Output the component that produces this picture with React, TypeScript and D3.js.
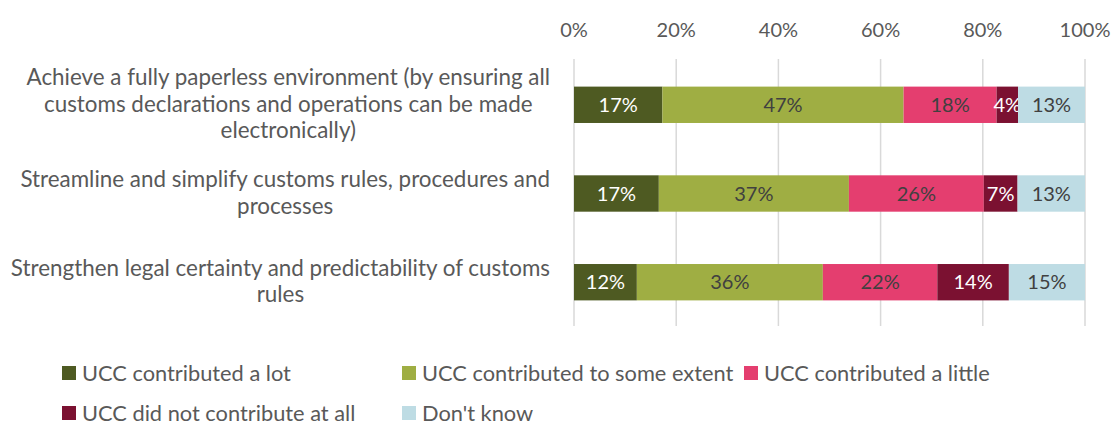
import { useEffect, useRef } from 'react'
import * as d3 from 'd3'

const categories = [
  'Achieve a fully paperless environment (by ensuring all|customs declarations and operations can be made|electronically)',
  'Streamline and simplify customs rules, procedures and|processes',
  'Strengthen legal certainty and predictability of customs|rules',
]
const seriesNames = [
  'UCC contributed a lot',
  'UCC contributed to some extent',
  'UCC contributed a little',
  'UCC did not contribute at all',
  "Don't know",
]
const aLot = [17.3, 16.6, 12.3]
const someExtent = [47.2, 37.2, 36.4]
const aLittle = [18.2, 26.4, 22.4]
const notAtAll = [4.2, 6.6, 14.0]
const dontKnow = [13.1, 13.2, 14.9]
const ticks = [0, 20, 40, 60, 80, 100]

const colors = ['#4e5a22', '#9fae43', '#e43e6f', '#7b1131', '#bedce4']
const labelColors = ['#ffffff', '#404040', '#404040', '#ffffff', '#404040']
const font = 'Lato, "Open Sans", sans-serif'

const App = () => {
  const ref = useRef<SVGSVGElement>(null)

  useEffect(() => {
    const svg = d3.select(ref.current)
    svg.selectAll('*').remove()

    const rows = categories.map((c, i) => ({
      cat: c,
      [seriesNames[0]]: aLot[i],
      [seriesNames[1]]: someExtent[i],
      [seriesNames[2]]: aLittle[i],
      [seriesNames[3]]: notAtAll[i],
      [seriesNames[4]]: dontKnow[i],
    }))
    const stacked = d3.stack<any>().keys(seriesNames)(rows)

    const x = d3.scaleLinear().domain([0, 100]).range([574, 1085])
    const y = d3
      .scaleBand()
      .domain(categories)
      .range([60, 327])
      .paddingInner(0.59)
      .paddingOuter(0.3)

    // grid
    svg
      .append('g')
      .selectAll('line')
      .data(ticks)
      .join('line')
      .attr('x1', (d) => x(d))
      .attr('x2', (d) => x(d))
      .attr('y1', 59)
      .attr('y2', 326)
      .attr('stroke', '#d9d9d9')
      .attr('stroke-width', 1.5)

    svg
      .append('g')
      .selectAll('text')
      .data(ticks)
      .join('text')
      .attr('x', (d) => x(d))
      .attr('y', 37)
      .attr('text-anchor', 'middle')
      .attr('font-family', font)
      .attr('font-size', 20)
      .attr('fill', '#595959')
      .text((d) => `${d}%`)

    const layers = svg
      .append('g')
      .selectAll('g')
      .data(stacked)
      .join('g')
      .attr('fill', (_, i) => colors[i])

    layers
      .selectAll('rect')
      .data((d) => d)
      .join('rect')
      .attr('x', (d) => x(d[0]))
      .attr('width', (d) => x(d[1]) - x(d[0]))
      .attr('y', (d: any) => y(d.data.cat)!)
      .attr('height', y.bandwidth())

    layers.each(function (layer, li) {
      d3.select(this)
        .selectAll('text')
        .data(layer)
        .join('text')
        .attr('x', (d) => (x(d[0]) + x(d[1])) / 2)
        .attr('y', (d: any) => y(d.data.cat)! + y.bandwidth() / 2 + 7)
        .attr('text-anchor', 'middle')
        .attr('font-family', font)
        .attr('font-size', 20)
        .attr('fill', labelColors[li])
        .text((d) => `${Math.round(d[1] - d[0])}%`)
    })

    // category labels, lines centred in a right-aligned box
    const lineH = 26.5
    categories.forEach((c) => {
      const lines = c.split('|')
      const cy = y(c)! + y.bandwidth() / 2
      const texts = svg
        .append('g')
        .selectAll('text')
        .data(lines)
        .join('text')
        .attr('y', (_, i) => cy + (i - (lines.length - 1) / 2) * lineH + 7)
        .attr('text-anchor', 'middle')
        .attr('font-family', font)
        .attr('font-size', 22.4)
        .attr('fill', '#595959')
        .text((d) => d)
      let maxW = 0
      texts.each(function () {
        maxW = Math.max(maxW, (this as SVGTextElement).getComputedTextLength())
      })
      texts.attr('x', 550 - maxW / 2)
    })

    // legend
    const legendPos = [
      [62, 373],
      [402, 373],
      [744, 373],
      [62, 413],
      [402, 413],
    ]
    const lg = svg
      .append('g')
      .selectAll('g')
      .data(seriesNames)
      .join('g')
      .attr('transform', (_, i) => `translate(${legendPos[i][0]},${legendPos[i][1]})`)
    lg.append('rect')
      .attr('x', 0)
      .attr('y', -7)
      .attr('width', 14)
      .attr('height', 14)
      .attr('fill', (_, i) => colors[i])
    lg.append('text')
      .attr('x', 20)
      .attr('y', 7.5)
      .attr('font-family', font)
      .attr('font-size', 21.8)
      .attr('fill', '#595959')
      .text((d) => d)
  }, [])

  return (
    <svg
      ref={ref}
      width={1115}
      height={425}
      style={{ position: 'absolute', left: 0, top: 0, background: '#fff' }}
    />
  )
}

export default App
